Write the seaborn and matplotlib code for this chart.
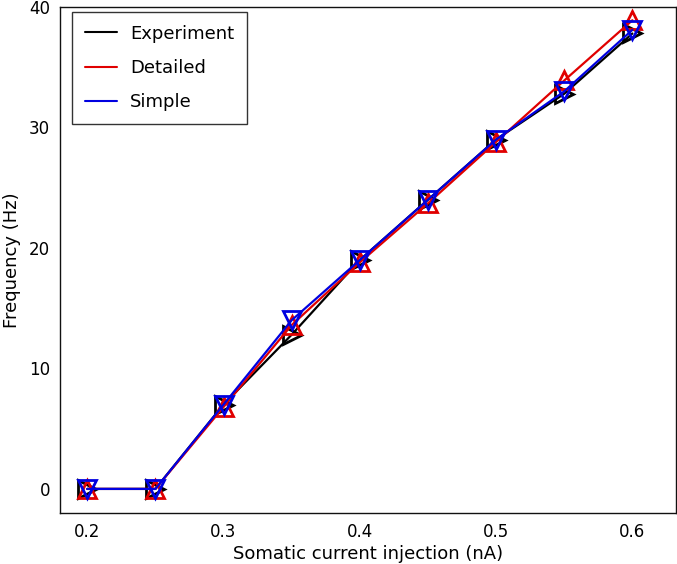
import matplotlib
matplotlib.use("Agg")
import matplotlib.pyplot as plt
from matplotlib.lines import Line2D
import seaborn as sns
import pandas as pd

current = [0.2, 0.25, 0.3, 0.35, 0.4, 0.45, 0.5, 0.55, 0.6]
experiment = [0, 0, 7.0, 12.8, 19.0, 24.0, 29.0, 32.8, 37.8]
detailed = [0, 0, 6.8, 13.6, 18.8, 23.7, 28.8, 33.9, 38.9]
simple = [0, 0, 7.0, 14.0, 19.0, 24.0, 29.0, 33.0, 38.1]

series_names = ["Experiment", "Detailed", "Simple"]
series_values = [experiment, detailed, simple]
colors = ["black", "#e00000", "#0000e0"]
markers = [">", "^", "v"]

sns.set_style("white")
plt.rcParams['font.family'] = ['DejaVu Sans']
plt.rcParams['text.color'] = 'black'
plt.rcParams['axes.labelcolor'] = 'black'
plt.rcParams['xtick.color'] = 'black'
plt.rcParams['ytick.color'] = 'black'

fig = plt.figure(figsize=(6.77, 5.64), dpi=100)
ax = fig.add_axes([0.0886, 0.0904, 0.9099, 0.8972])

for name, vals, c, m in zip(series_names, series_values, colors, markers):
    df = pd.DataFrame({"x": current, "y": vals})
    sns.lineplot(data=df, x="x", y="y", ax=ax, color=c, marker=m,
                 markersize=13, markerfacecolor="none", markeredgecolor=c,
                 markeredgewidth=2, linewidth=1.6, legend=False)

ax.set_xlim(0.18, 0.632)
ax.set_ylim(-2, 40)
ax.set_xticks([0.2, 0.3, 0.4, 0.5, 0.6])
ax.set_yticks([0, 10, 20, 30, 40])
ax.set_xticklabels(["0.2", "0.3", "0.4", "0.5", "0.6"])
ax.tick_params(labelsize=12, length=0, pad=7)
ax.set_xlabel("Somatic current injection (nA)", fontsize=13, labelpad=3)
ax.set_ylabel("Frequency (Hz)", fontsize=13, labelpad=6)
for s in ax.spines.values():
    s.set_color("#111111")
    s.set_linewidth(1.0)
    s.set_visible(True)

handles = [Line2D([0], [0], color=c, lw=1.5) for c in colors]
leg = ax.legend(handles, series_names, loc="upper left", fontsize=13,
                frameon=True, fancybox=False, edgecolor="black",
                borderpad=0.7, labelspacing=0.9, handlelength=1.8,
                handletextpad=0.7, borderaxespad=0,
                bbox_to_anchor=(0.0195, 0.990))
leg.get_frame().set_linewidth(1.0)

fig.savefig("out.png", dpi=100)
